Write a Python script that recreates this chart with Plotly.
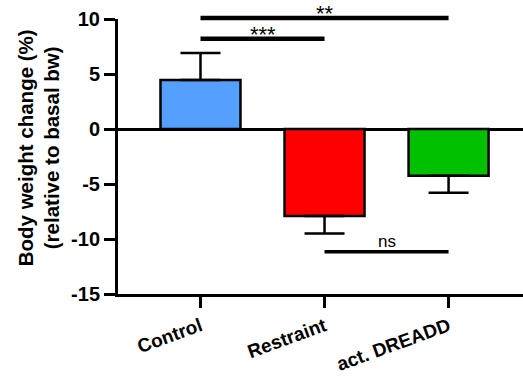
import plotly.graph_objects as go

categories = ["Control", "Restraint", "act. DREADD"]
means = [4.45, -7.9, -4.25]
err_up = [2.45, 0, 0]
err_down = [0, 1.6, 1.55]
colors = ["#55A0FF", "#FF0000", "#00C000"]

# significance comparisons: (from idx, to idx, y level, label)
comparisons = [(0, 2, 10.1, "**"), (0, 1, 8.2, "***"), (1, 2, -11.15, "ns")]

Y_RANGE = [-15, 10]
FONT = "Arial, Liberation Sans, sans-serif"


def to_paper(v):
    return (v - Y_RANGE[0]) / (Y_RANGE[1] - Y_RANGE[0])


fig = go.Figure()
fig.add_trace(go.Bar(
    x=list(range(len(categories))), y=means,
    width=0.645,
    marker=dict(color=colors, line=dict(color="black", width=2.5)),
    error_y=dict(type="data", symmetric=False, array=err_up, arrayminus=err_down,
                 color="black", thickness=2.5, width=20),
    cliponaxis=False,
    showlegend=False,
))

for a, b, yv, lab in comparisons:
    is_ns = lab == "ns"
    fig.add_shape(
        type="line", xref="x", yref="paper",
        x0=a, x1=b, y0=to_paper(yv), y1=to_paper(yv),
        line=dict(color="black", width=3.5 if is_ns else 4.5),
    )
    fig.add_annotation(
        xref="x", yref="paper",
        x=(a + b) / 2, y=to_paper(yv), text=lab, showarrow=False, yanchor="bottom",
        yshift=-1 if is_ns else -10,
        font=dict(family=FONT, size=17 if is_ns else 22, color="black"),
    )

fig.add_annotation(
    xref="paper", yref="paper", x=-0.195, y=0.53, textangle=-90,
    text="<b>Body weight change (%)<br>(relative to basal bw)</b>",
    showarrow=False, font=dict(family=FONT, size=20.5, color="black"),
    xanchor="center", yanchor="middle",
)

fig.update_layout(
    width=523, height=376,
    margin=dict(l=118, r=0, t=19, b=82),
    plot_bgcolor="white", paper_bgcolor="white",
)
fig.update_xaxes(
    range=[-0.665, 2.6], automargin=False,
    tickmode="array", tickvals=list(range(len(categories))),
    ticktext=["<b>%s</b>" % c for c in categories],
    tickangle=-20,
    ticks="outside", ticklen=11, tickwidth=2.5, tickcolor="black",
    showline=True, linecolor="black", linewidth=3,
    showgrid=False, zeroline=False,
    tickfont=dict(family=FONT, size=19, color="black"),
)
fig.update_yaxes(
    range=Y_RANGE, automargin=False,
    tickmode="array", tickvals=[-15, -10, -5, 0, 5, 10],
    ticktext=["<b>%d</b>" % v for v in [-15, -10, -5, 0, 5, 10]],
    ticks="outside", ticklen=11, tickwidth=2.5, tickcolor="black",
    showline=True, linecolor="black", linewidth=3,
    showgrid=False, zeroline=True, zerolinecolor="black", zerolinewidth=3,
    tickfont=dict(family=FONT, size=20, color="black"),
)

fig.write_html("out.html")
